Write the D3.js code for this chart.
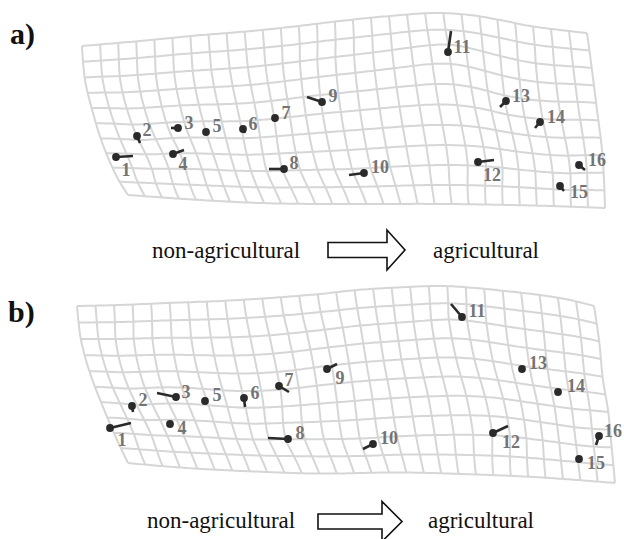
<!DOCTYPE html>
<html><head><meta charset="utf-8">
<script src="https://cdn.jsdelivr.net/npm/d3@7"></script>
<style>body{margin:0;background:#fff}svg{display:block}</style>
</head><body>
<svg id="chart" width="624" height="539"></svg>
<script>
// ---------------- DATA (panel-local units) ----------------
const landmarkLabels = ["1","2","3","4","5","6","7","8","9","10","11","12","13","14","15","16"];
const captionTexts = ["non-agricultural", "agricultural"];
const panelTitles = ["a)", "b)"];

// grid outline (warped boundary of the transformation grid)
const aTopEdge    = [[82,46],[140,41],[190,36],[240,32],[290,27],[340,21],[390,16],[435,13],[470,15],[500,20],[530,26],[560,30],[587,33]];
const aRightEdge  = [[587,33],[592,70],[597,110],[602,150],[604,180],[605,208]];
const aBottomEdge = [[128,195],[200,200],[260,203],[320,204],[450,204],[550,206],[605,208]];
const aLeftEdge   = [[82,46],[85,80],[93,113],[103,145],[117,177],[128,195]];

const bTopEdge    = [[77,36],[120,35],[167,33],[220,31],[270,28],[320,24],[357,20],[407,17],[443,16],[475,18],[505,21],[540,25],[570,30],[594,36]];
const bRightEdge  = [[594,36],[599,70],[603,110],[608,140],[611,170],[615,213]];
const bBottomEdge = [[128,193],[160,196],[200,199],[260,202],[320,204],[400,203],[470,205],[537,208],[615,214]];
const bLeftEdge   = [[77,36],[81,70],[90,103],[103,137],[117,170],[128,193]];

// landmarks: dot position, end of the displacement stick
const aDots = [[116,157],[137,136],[178,128],[173,154],[206,132],[243,129],[275,118],[284,169],[322,102],[364,173],[448,52],[478,162],[506,101],[540,122],[560,186],[579,165]];
const aEnds = [[133,156],[140,143],[171,128],[184,150],[206,132],[245,133],[275,118],[269,169],[307,97],[349,175],[451,31],[494,160],[500,107],[535,128],[564,191],[585,170]];
const aLabelPos = [[126,170],[147,130],[189,123],[183,164],[217,126],[253,124],[286,113],[294,163],[333,96],[380,167],[462,47],[492,175],[521,96],[556,117],[579,192],[597,160]];

const bDots = [[110,158],[132,136],[176,127],[170,154],[205,131],[244,128],[279,116],[288,169],[327,99],[373,174],[462,47],[493,163],[522,99],[558,122],[579,189],[599,166]];
const bEnds = [[131,153],[133,142],[157,123],[168,152],[205,131],[245,137],[289,122],[268,168],[337,94],[363,179],[451,34],[508,156],[522,99],[556,124],[579,189],[596,175]];
const bLabelPos = [[122,170],[143,130],[186,122],[182,158],[217,125],[255,123],[289,110],[300,163],[340,108],[389,168],[477,41],[511,172],[538,93],[576,116],[596,193],[613,161]];

// ---------------- LAYOUT ----------------
const W = 624, H = 539, NU = 28, NV = 10, WARP_K = 0.45;
const svg = d3.select("#chart");
const x = d3.scaleLinear().domain([0, 624]).range([0, 624]);

const panels = [
  {title: panelTitles[0], top: 0, edges: [aTopEdge, aRightEdge, aBottomEdge, aLeftEdge], dots: aDots, ends: aEnds, labels: aLabelPos,
   titleX: 10, titleY: 44, cap1X: 152, cap2X: 433, capY: 258, arrow: {x0: 328, xb: 387, tip: 405, cy: 250}},
  {title: panelTitles[1], top: 270, edges: [bTopEdge, bRightEdge, bBottomEdge, bLeftEdge], dots: bDots, ends: bEnds, labels: bLabelPos,
   titleX: 8, titleY: 52, cap1X: 147, cap2X: 428, capY: 258, arrow: {x0: 318, xb: 382, tip: 402, cy: 251.5}}
];

const helper = svg.append("g").attr("opacity", 0);

function edgeLUT(pts, sx, sy) {
  const p = helper.append("path")
    .attr("d", d3.line().x(d => sx(d[0])).y(d => sy(d[1])).curve(d3.curveCatmullRom.alpha(0.5))(pts));
  const node = p.node(), L = node.getTotalLength(), n = 300, lut = [];
  for (let i = 0; i <= n; i++) { const q = node.getPointAtLength(L * i / n); lut.push([q.x, q.y]); }
  return lut;
}
function lutAt(lut, s) {
  const n = lut.length - 1, f = Math.max(0, Math.min(1, s)) * n, i = Math.min(n - 1, Math.floor(f)), r = f - i;
  return [lut[i][0] + (lut[i + 1][0] - lut[i][0]) * r, lut[i][1] + (lut[i + 1][1] - lut[i][1]) * r];
}

function solve(A, b) {
  const n = b.length, M = A.map((r, i) => r.concat([b[i]]));
  for (let c = 0; c < n; c++) {
    let piv = c; for (let r = c + 1; r < n; r++) if (Math.abs(M[r][c]) > Math.abs(M[piv][c])) piv = r;
    [M[c], M[piv]] = [M[piv], M[c]];
    for (let r = 0; r < n; r++) if (r !== c) { const f = M[r][c] / M[c][c]; for (let k = c; k <= n; k++) M[r][k] -= f * M[c][k]; }
  }
  return M.map((r, i) => r[n] / r[i]);
}
const U = r2 => r2 < 1e-12 ? 0 : r2 * Math.log(r2);

panels.forEach(P => {
  const y = d3.scaleLinear().domain([0, 270]).range([P.top, P.top + 270]);
  const [T, R, B, Lf] = P.edges.map(e => edgeLUT(e, x, y));
  const P00 = lutAt(T, 0), P10 = lutAt(T, 1), P01 = lutAt(B, 0), P11 = lutAt(B, 1);
  const coons = (s, t) => {
    const tp = lutAt(T, s), bt = lutAt(B, s), lf = lutAt(Lf, t), rt = lutAt(R, t);
    return [0, 1].map(k => (1 - t) * tp[k] + t * bt[k] + (1 - s) * lf[k] + s * rt[k]
      - ((1 - s) * (1 - t) * P00[k] + s * (1 - t) * P10[k] + (1 - s) * t * P01[k] + s * t * P11[k]));
  };
  const inv = pt => {
    let best = [0.5, 0.5], bd = Infinity;
    for (let s = 0; s <= 1.0001; s += 0.005) for (let t = 0; t <= 1.0001; t += 0.01) {
      const c = coons(s, t), d = (c[0] - pt[0]) ** 2 + (c[1] - pt[1]) ** 2;
      if (d < bd) { bd = d; best = [s, t]; }
    }
    return best;
  };
  const SW = 500, SH = 170;
  const ctrl = [], dx = [], dy = [];
  P.dots.forEach((d, i) => {
    const pd = [x(d[0]), y(d[1])], pe = [x(P.ends[i][0]), y(P.ends[i][1])];
    const st = inv(pd); ctrl.push([st[0] * SW, st[1] * SH]);
    dx.push(WARP_K * (pe[0] - pd[0])); dy.push(WARP_K * (pe[1] - pd[1]));
  });
  for (let i = 0; i <= NU; i += 4) { ctrl.push([i / NU * SW, 0]); ctrl.push([i / NU * SW, SH]); dx.push(0, 0); dy.push(0, 0); }
  for (let j = 5; j < NV; j += 5) { ctrl.push([0, j / NV * SH]); ctrl.push([SW, j / NV * SH]); dx.push(0, 0); dy.push(0, 0); }
  const n = ctrl.length, A = [];
  for (let i = 0; i < n + 3; i++) A.push(new Array(n + 3).fill(0));
  for (let i = 0; i < n; i++) {
    for (let j = 0; j < n; j++) A[i][j] = U((ctrl[i][0] - ctrl[j][0]) ** 2 + (ctrl[i][1] - ctrl[j][1]) ** 2);
    A[i][i] += 2000; // mild smoothing
    A[i][n] = 1; A[i][n + 1] = ctrl[i][0]; A[i][n + 2] = ctrl[i][1];
    A[n][i] = 1; A[n + 1][i] = ctrl[i][0]; A[n + 2][i] = ctrl[i][1];
  }
  const wx = solve(A, dx.concat([0, 0, 0])), wy = solve(A, dy.concat([0, 0, 0]));
  const tps = (w, px, py) => { let v = w[n] + w[n + 1] * px + w[n + 2] * py;
    for (let i = 0; i < n; i++) v += w[i] * U((px - ctrl[i][0]) ** 2 + (py - ctrl[i][1]) ** 2); return v; };
  // fade residual to zero at the outline so the measured boundary is kept
  const fade = (s, t) => Math.min(1, 12 * s * (1 - s) * 1.2) * Math.min(1, 4 * t * (1 - t) * 1.6);
  const warp = (s, t) => { const c = coons(s, t), px = s * SW, py = t * SH, f = fade(s, t);
    return [c[0] + f * tps(wx, px, py), c[1] + f * tps(wy, px, py)]; };

  const g = svg.append("g");
  const line = d3.line();
  const gridLines = [];
  for (let i = 0; i <= NU; i++) gridLines.push(d3.range(0, 61).map(k => warp(i / NU, k / 60)));
  for (let j = 0; j <= NV; j++) gridLines.push(d3.range(0, 201).map(k => warp(k / 200, j / NV)));
  g.selectAll("path.grid").data(gridLines).join("path").attr("class", "grid")
    .attr("d", line).attr("fill", "none").attr("stroke", "#d6d6d6").attr("stroke-width", 2).attr("stroke-linejoin", "round");

  g.selectAll("line.stick").data(P.dots).join("line").attr("class", "stick")
    .attr("x1", d => x(d[0])).attr("y1", d => y(d[1]))
    .attr("x2", (d, i) => x(P.ends[i][0])).attr("y2", (d, i) => y(P.ends[i][1]))
    .attr("stroke", "#2a2a2a").attr("stroke-width", 2.6);
  g.selectAll("circle").data(P.dots).join("circle")
    .attr("cx", d => x(d[0])).attr("cy", d => y(d[1])).attr("r", 3.9).attr("fill", "#2a2a2a");
  g.selectAll("text.lab").data(P.labels).join("text").attr("class", "lab")
    .attr("x", d => x(d[0])).attr("y", d => y(d[1])).attr("text-anchor", "middle").attr("dominant-baseline", "central")
    .attr("font-family", "'Liberation Serif', 'Times New Roman', serif").attr("font-weight", "bold").attr("font-size", 18)
    .attr("fill", "#747474").text((d, i) => landmarkLabels[i]);

  svg.append("text").attr("x", x(P.titleX)).attr("y", y(P.titleY))
    .attr("font-family", "'Liberation Serif', 'Times New Roman', serif").attr("font-weight", "bold").attr("font-size", 30)
    .attr("fill", "#111").text(P.title);

  [[P.cap1X, captionTexts[0]], [P.cap2X, captionTexts[1]]].forEach(([cx, txt]) => {
    svg.append("text").attr("x", x(cx)).attr("y", y(P.capY))
      .attr("font-family", "'Liberation Serif', 'Times New Roman', serif").attr("font-size", 23)
      .attr("fill", "#111").text(txt);
  });
  const a = P.arrow, sh = 7.5, hh = 20;
  const arrowPts = [[a.x0, a.cy - sh], [a.xb, a.cy - sh], [a.xb, a.cy - hh], [a.tip, a.cy], [a.xb, a.cy + hh], [a.xb, a.cy + sh], [a.x0, a.cy + sh]];
  svg.append("path").attr("d", d3.line().x(d => x(d[0])).y(d => y(d[1]))(arrowPts) + "Z")
    .attr("fill", "#fff").attr("stroke", "#111").attr("stroke-width", 1.6).attr("stroke-linejoin", "miter");
});
helper.remove();
</script>
</body></html>
